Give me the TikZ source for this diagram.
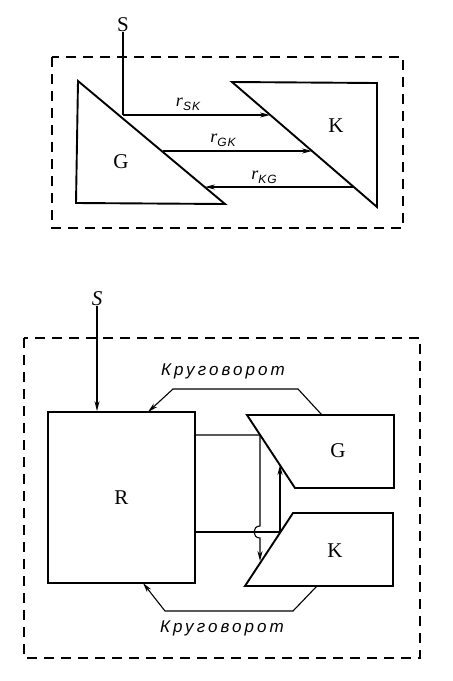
\documentclass[tikz,border=0pt]{standalone}
\usepackage{fontspec}
\setmainfont{Liberation Serif}
\newfontfamily\cyrfont[LetterSpace=18]{Liberation Sans}
\newfontfamily\subfont[LetterSpace=8]{Liberation Sans}
\newcommand{\rsub}[1]{\textit{r}\raisebox{-4pt}{\subfont\itshape\fontsize{12}{12}\selectfont #1}}
\usetikzlibrary{arrows.meta}

\begin{document}
\begin{tikzpicture}[x=1pt, y=-1pt,
    every node/.style={inner sep=0pt, font=\fontsize{21}{21}\selectfont},
    blk/.style={line width=1.9pt},
    wire/.style={line width=1.1pt},
    flow/.style={line width=1.1pt, -{Stealth[length=10pt, width=5pt]}},
    frame/.style={line width=1.4pt, dash pattern=on 10pt off 7pt},
    rlbl/.style={font=\fontsize{18}{18}\selectfont},
    cyr/.style={font=\cyrfont\itshape\fontsize{17}{17}\selectfont}
]
\useasboundingbox (0,0) rectangle (453,681);

% upper scheme
\draw[frame] (52,57) rectangle (403,228);
\draw[blk] (78,81) -- (225,204) -- (76,203) -- cycle;
\draw[blk] (232,82) -- (377,83) -- (377,207) -- cycle;
\node (G1) at (121,162) {G};
\node (K1) at (336,126) {K};
\node (S1) at (123,25) {S};

\coordinate (sk-a) at (123,115);
\coordinate (sk-b) at (270,115);
\coordinate (gk-a) at (163,151);
\coordinate (gk-b) at (312,151);
\coordinate (kg-a) at (354,187);
\coordinate (kg-b) at (205,187);

\draw[wire] (S1.south) -- (sk-a);
\draw[flow] (sk-a) -- (sk-b);
\draw[flow] (gk-a) -- (gk-b);
\draw[flow] (kg-a) -- (kg-b);
\node[rlbl] (rsk) at (188,104) {\rsub{SK}};
\node[rlbl] (rgk) at (223,140) {\rsub{GK}};
\node[rlbl] (rkg) at (264,177) {\rsub{KG}};

% lower scheme
\draw[frame] (24,338) rectangle (420,658);
\node[draw, blk, minimum width=147pt, minimum height=171pt] (R) at (121.5,497.5) {R};
\draw[blk] (247,415) -- (394,415) -- (394,488) -- (295,488) -- cycle;
\draw[blk] (293,513) -- (393,513) -- (393,586) -- (245,586) -- cycle;
\node (G2) at (338,451) {G};
\node (K2) at (335,551) {K};
\node (S2) at (97,299) {\itshape S};
\draw[flow] (S2.south) -- (S2 |- R.north);

% circulation
\draw[flow] (322,415) -- (298,389) -- (173,389) -- (148,412);
\draw[flow] (317,586) -- (293,611) -- (165,611) -- (143,583);
\node[cyr] (cyc1) at (223,371) {Круговорот};
\node[cyr] (cyc2) at (222,628) {Круговорот};

% links between G and K
\coordinate (gj) at (260,435);
\coordinate (kj) at (280,532);
\coordinate (kin) at (260,561);
\coordinate (gin) at (280,465);
\draw[flow] (gj -| R.east) -- (gj) -- (260,526)
    .. controls (252,526) and (252,538) .. (260,538) -- (kin);
\draw[flow] (kj -| R.east) -- (kj) -- (gin);
\end{tikzpicture}
\end{document}
